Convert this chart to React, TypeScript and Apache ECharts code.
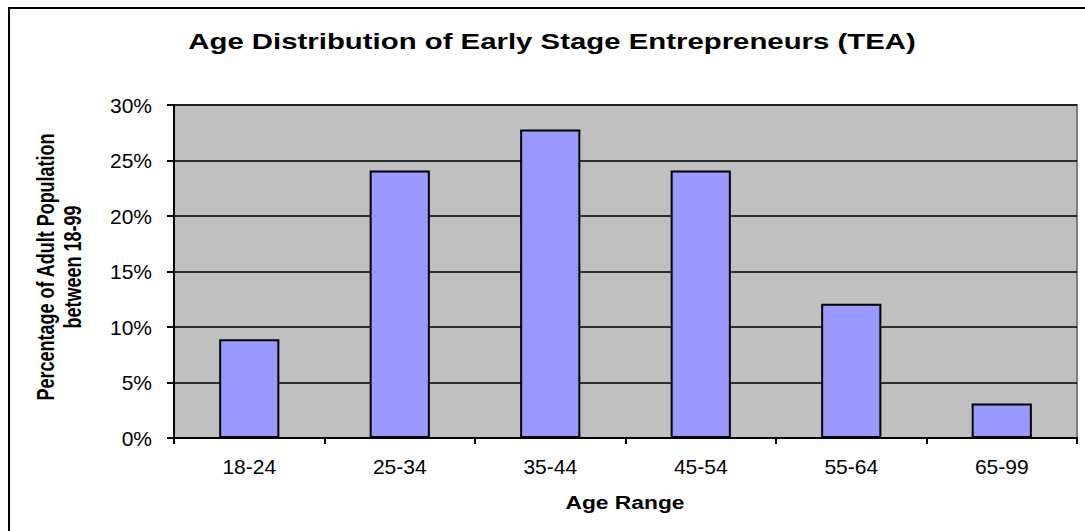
import React, { useEffect, useRef } from "react";
import * as echarts from "echarts";

const categories = ["18-24", "25-34", "35-44", "45-54", "55-64", "65-99"];
const values = [8.9, 24.1, 27.8, 24.1, 12.1, 3.1];
const yTicks = [0, 5, 10, 15, 20, 25, 30];
const titleText = "Age Distribution of Early Stage Entrepreneurs (TEA)";
const xAxisTitle = "Age Range";
const yAxisTitle = "Percentage of Adult Population\nbetween 18-99";

const FONT = "'Liberation Sans', Arial, sans-serif";

export default function App() {
  const ref = useRef<HTMLDivElement>(null);
  useEffect(() => {
    if (!ref.current) return;
    const chart = echarts.init(ref.current, null, { renderer: "svg" });
    chart.setOption({
      animation: false,
      backgroundColor: "#ffffff",
      graphic: [
        {
          type: "rect",
          shape: { x: 9, y: 8, width: 1100, height: 600 },
          style: { fill: "none", stroke: "#000", lineWidth: 2 },
          silent: true,
          z: 100,
        },
        {
          type: "text",
          x: 552,
          y: 41,
          scaleX: 1.335,
          style: {
            text: titleText,
            font: `bold 22px ${FONT}`,
            fill: "#000",
            textAlign: "center",
            textVerticalAlign: "middle",
          },
        },
        {
          type: "text",
          x: 625,
          y: 502,
          scaleX: 1.2,
          style: {
            text: xAxisTitle,
            font: `bold 19px ${FONT}`,
            fill: "#000",
            textAlign: "center",
            textVerticalAlign: "middle",
          },
        },
        {
          type: "text",
          x: 59,
          y: 267,
          rotation: Math.PI / 2,
          scaleY: 1.3,
          style: {
            text: yAxisTitle,
            font: `bold 18px ${FONT}`,
            fill: "#000",
            textAlign: "center",
            textVerticalAlign: "middle",
            lineHeight: 21,
          },
        },
      ],
      grid: {
        left: 174,
        top: 105,
        right: 8,
        bottom: 93,
        show: true,
        backgroundColor: "#C0C0C0",
        borderColor: "#808080",
        borderWidth: 2,
      },
      xAxis: {
        type: "category",
        data: categories,
        axisLine: { lineStyle: { color: "#000", width: 2 } },
        axisTick: { show: true, alignWithLabel: false, length: 6, lineStyle: { color: "#000", width: 2 } },
        axisLabel: { fontFamily: FONT, fontSize: 21, color: "#000", margin: 18 },
      },
      yAxis: {
        type: "value",
        min: 0,
        max: 30,
        interval: 5,
        axisLine: { show: true, lineStyle: { color: "#000", width: 2 } },
        axisTick: { show: true, length: 7, lineStyle: { color: "#000", width: 2 } },
        axisLabel: {
          fontFamily: FONT,
          fontSize: 21,
          color: "#000",
          margin: 22,
          formatter: (v: number) => (yTicks.includes(v) ? `${v}%` : ""),
        },
        splitLine: { show: true, lineStyle: { color: "#000", width: 1.5 } },
      },
      series: [
        {
          type: "bar",
          data: values,
          barCategoryGap: "60%",
          itemStyle: { color: "#9999FF", borderColor: "#000", borderWidth: 2 },
        },
      ],
    });
    return () => chart.dispose();
  }, []);
  return (
    <div
      ref={ref}
      style={{ position: "fixed", left: 0, top: 0, width: 1085, height: 531 }}
    />
  );
}
